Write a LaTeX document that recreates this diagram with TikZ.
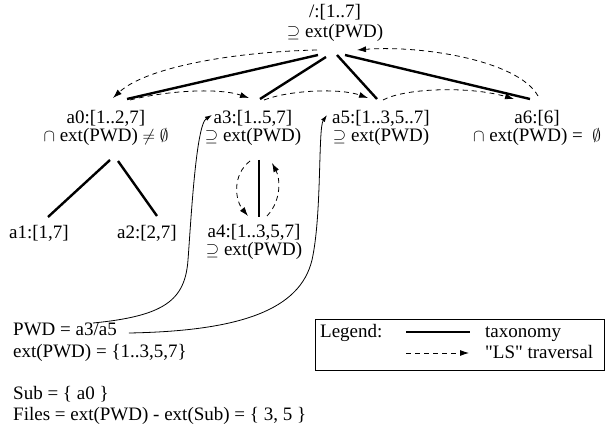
\documentclass[tikz,border=0pt]{standalone}
\usepackage{fontspec}
\setmainfont{Liberation Serif}[Ligatures=TeXOff]
\usetikzlibrary{arrows.meta,calc}
\tikzset{
  lab/.style={align=center, inner sep=0pt, font=\fontsize{19}{18}\selectfont},
  txt/.style={inner sep=0pt, anchor=base west, font=\fontsize{19}{18}\selectfont},
  tax/.style={line width=2.4pt},
  trav/.style={dash pattern=on 5pt off 4pt, line width=0.8pt, -{Latex[length=9pt,width=6pt]}},
  ptr/.style={line width=0.8pt, -{Latex[length=7pt,width=4.5pt]}},
  legbox/.style={line width=0.8pt},
}
\begin{document}
\begin{tikzpicture}[x=1pt,y=-1pt]
\useasboundingbox (0,0) rectangle (608,433);
% tree nodes
\node[lab] (root) at (335,23) {/:[1..7]\\[2pt]$\supseteq$ ext(PWD)};
\node[lab] (a0) at (106,128) {a0:[1..2,7]\\$\cap$ ext(PWD) $\neq$ $\emptyset$};
\node[lab] (a3) at (253,128) {a3:[1..5,7]\\$\supseteq$ ext(PWD)};
\node[lab] (a5) at (381,128) {a5:[1..3,5..7]\\$\supseteq$ ext(PWD)};
\node[lab] (a6) at (537,128) {a6:[6]\\$\cap$ ext(PWD) = \ $\emptyset$};
\node[lab] (a1) at (39,233) {a1:[1,7]};
\node[lab] (a2) at (147,233) {a2:[2,7]};
\node[lab] (a4) at (254,242) {a4:[1..3,5,7]\\$\supseteq$ ext(PWD)};
% text block
\node[txt] (pwd) at (13,335) {PWD = a3/a5};
\node[txt] (ext) at (13,357) {ext(PWD) = \{1..3,5,7\}};
\node[txt] (sub) at (13,399) {Sub = \{ a0 \}};
\node[txt] (files) at (13,420) {Files = ext(PWD) - ext(Sub) = \{ 3, 5 \}};
% taxonomy
\draw[tax] ($(root.center)+(-17,32)$) -- ($(a0.center)+(21,-29)$);
\draw[tax] ($(root.center)+(-9,34)$) -- ($(a3.center)+(7,-29)$);
\draw[tax] ($(root.center)+(2,32)$) -- ($(a5.center)+(-4,-29)$);
\draw[tax] ($(root.center)+(10,32)$) -- ($(a6.center)+(-7,-29)$);
\draw[tax] ($(a0.center)+(4,32)$) -- ($(a1.center)+(9,-16)$);
\draw[tax] ($(a0.center)+(12,33)$) -- ($(a2.center)+(10,-17)$);
\draw[tax] ($(a3.center)+(6,32)$) -- ($(a4.center)+(5,-25)$);
% traversal
\draw[trav] ($(root.center)+(-18,27)$) .. controls ($(root.center)+(-105,29)$) and ($(a0.center)+(39,-60)$) .. ($(a0.center)+(7,-30)$);
\draw[trav] ($(a0.center)+(24,-28)$) .. controls ($(a0.center)+(64,-38)$) and ($(a3.center)+(-33,-40)$) .. ($(a3.center)+(-4,-30)$);
\draw[trav] ($(a3.center)+(11,-28)$) .. controls ($(a3.center)+(37,-38)$) and ($(a5.center)+(-41,-40)$) .. ($(a5.center)+(-13,-30)$);
\draw[trav] ($(a5.center)+(2,-28)$) .. controls ($(a5.center)+(24,-40)$) and ($(a6.center)+(-67,-42)$) .. ($(a6.center)+(-23,-29)$);
\draw[trav] ($(a6.center)+(1,-32)$) .. controls ($(a6.center)+(-19,-68)$) and ($(root.center)+(85,22)$) .. ($(root.center)+(22,27)$);
\draw[trav] ($(a3.center)+(-3,33)$) .. controls ($(a3.center)+(-21,47)$) and ($(a4.center)+(-19,-42)$) .. ($(a4.center)+(-6,-26)$);
\draw[trav] ($(a4.center)+(13,-26)$) .. controls ($(a4.center)+(28,-42)$) and ($(a3.center)+(27,50)$) .. ($(a3.center)+(19,35)$);
% PWD pointers
\draw[ptr] ($(pwd.base west)+(80,-12)$) .. controls (165,316) and (185,300) .. (188,260) .. controls (191,220) and (196,125) .. ($(a3.center)+(-41,-13)$);
\draw[ptr] ($(pwd.base east)+(12,-2)$) .. controls (240,331) and (300,310) .. (312,260) .. controls (322,215) and (318,128) .. ($(a5.center)+(-54,-13)$);
% legend
\coordinate (lbtl) at (315,319);
\coordinate (lbbr) at (604,370);
\draw[legbox] (lbtl) rectangle (lbbr);
\node[txt] (lg) at (320,337) {Legend:};
\node[txt] (ltax) at (485,337) {taxonomy};
\node[txt] (ltrav) at (485,358) {"LS" traversal};
\coordinate (t1) at (406,332);
\coordinate (t2) at (470,332);
\coordinate (d1) at (406,353);
\coordinate (d2) at (469,353);
\draw[tax] (t1) -- (t2);
\draw[trav] (d1) -- (d2);
\end{tikzpicture}
\end{document}
